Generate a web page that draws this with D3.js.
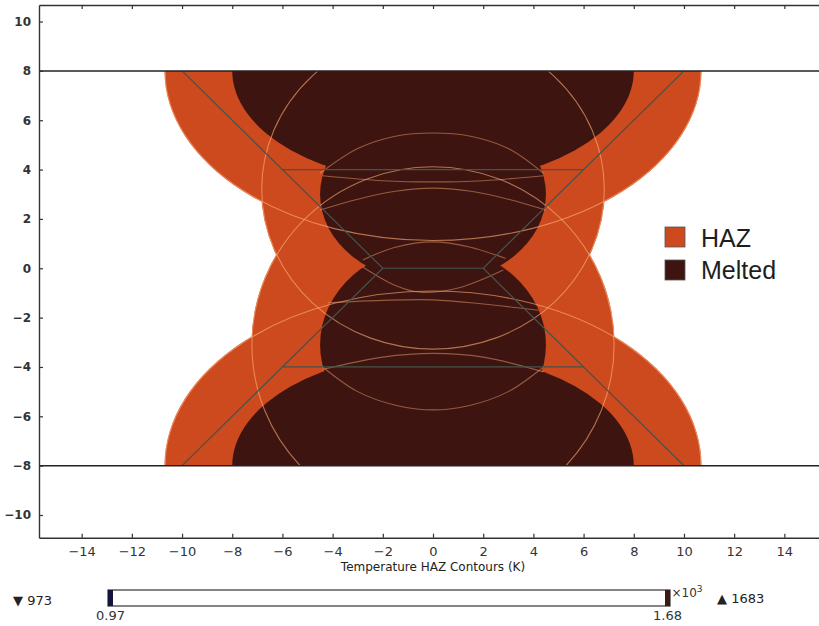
<!DOCTYPE html>
<html>
<head>
<meta charset="utf-8">
<script src="https://cdn.jsdelivr.net/npm/d3@7/dist/d3.min.js"></script>
<style>
  body { margin: 0; background: #fff; }
  svg { display: block; }
</style>
</head>
<body>
<div id="chart"></div>
<script>
// axis ticks
const xTicks = [-14, -12, -10, -8, -6, -4, -2, 0, 2, 4, 6, 8, 10, 12, 14];
const yTicks = [-10, -8, -6, -4, -2, 0, 2, 4, 6, 8, 10];

// plate surfaces (y) and groove outline
const plateY = [8, -8];
const grooveLines = [
    [[-10, 8], [-2, 0], [-10, -8]],
    [[10, 8], [2, 0], [10, -8]],
    [[-6, 4], [6, 4]],
    [[-2, 0], [2, 0]],
    [[-6, -4], [6, -4]]
];

// heat affected zones, [centre y, half width, half height]
const hazZones = [
    [8, 10.7, 6.9],
    [3.2, 6.85, 6.5],
    [-3.1, 7.24, 7.24],
    [-8, 10.7, 7.1]
];

// melted zones, [centre y, half width, half height]
const meltZones = [
    [8, 8.0, 4.55],
    [3.0, 4.5, 3.6],
    [-3.1, 4.5, 4.0],
    [-8, 8.0, 4.55]
];

// inner isotherm traces
const contourArcs = [
    [[-4.5, 3.85], [-3, 4.85], [-1.5, 5.35], [0, 5.48], [1.5, 5.35], [3, 4.85], [4.4, 3.85]],
    [[-4.4, 3.75], [-2, 3.55], [0, 3.5], [2, 3.55], [4.4, 3.75]],
    [[-4.5, 2.36], [-3, 2.8], [-1.5, 3.12], [0, 3.25], [1.5, 3.12], [3, 2.8], [4.5, 2.36]],
    [[-2.8, 0.34], [-1.5, 0.85], [0, 1.07], [1.5, 0.85], [2.9, 0.4]],
    [[-2.8, 0.05], [-1.5, -0.7], [-0.5, -0.97], [1, -0.8], [2.8, -0.07]],
    [[-4.2, -1.4], [-2, -1.3], [0, -1.28], [2, -1.45], [4.2, -1.7]],
    [[-4.4, -4.1], [-2, -3.6], [0, -3.45], [2, -3.6], [4.4, -4.2]],
    [[-4.4, -4.0], [-3, -5.0], [-1.5, -5.55], [0, -5.74], [1.5, -5.55], [3, -5.0], [4.4, -4.0]]
];

const legendNames = ["HAZ", "Melted"];
const legendColors = ["#cc4a1e", "#3e1410"];

// colour bar (x10^3 K)
const barRange = [0.97, 1.68];
const tempMin = 973;
const tempMax = 1683;

const width = 819;
const height = 626;
const hazColor = "#cc4a1e";
const meltColor = "#3e1410";

const svg = d3.select("#chart")
    .append("svg")
    .attr("width", width)
    .attr("height", height)
    .style("font-family", "DejaVu Sans, sans-serif");

const x = d3.scaleLinear().domain([-15.7, 15.5]).range([39, 822]);
const y = d3.scaleLinear().domain([-10.92, 10.67]).range([537.7, 5]);

const defs = svg.append("defs");

// plot area clip and plate clip
defs.append("clipPath").attr("id", "plotClip")
    .append("rect")
    .attr("x", x(-15.7)).attr("y", y(10.67))
    .attr("width", x(15.5) - x(-15.7)).attr("height", y(-10.92) - y(10.67));

defs.append("clipPath").attr("id", "plateClip")
    .append("rect")
    .attr("x", x(-15.7)).attr("y", y(plateY[0]))
    .attr("width", x(15.5) - x(-15.7)).attr("height", y(plateY[1]) - y(plateY[0]));

// union of HAZ ellipses, contours only show inside it
const hazClip = defs.append("clipPath").attr("id", "hazClip");
hazZones.forEach(function (d) {
    hazClip.append("ellipse")
        .attr("cx", x(0)).attr("cy", y(d[0]))
        .attr("rx", x(d[1]) - x(0)).attr("ry", y(0) - y(d[2]));
});

const plot = svg.append("g").attr("clip-path", "url(#plotClip)");
const plate = plot.append("g").attr("clip-path", "url(#plateClip)");

// HAZ fills
plate.selectAll(".haz")
    .data(hazZones)
    .enter()
    .append("ellipse")
    .attr("class", "haz")
    .attr("cx", x(0))
    .attr("cy", d => y(d[0]))
    .attr("rx", d => x(d[1]) - x(0))
    .attr("ry", d => y(0) - y(d[2]))
    .attr("fill", hazColor);

// melted fills
plate.selectAll(".melt")
    .data(meltZones)
    .enter()
    .append("ellipse")
    .attr("class", "melt")
    .attr("cx", x(0))
    .attr("cy", d => y(d[0]))
    .attr("rx", d => x(d[1]) - x(0))
    .attr("ry", d => y(0) - y(d[2]))
    .attr("fill", meltColor);

// contour lines
const contours = plate.append("g").attr("clip-path", "url(#hazClip)");
contours.selectAll(".hazline")
    .data(hazZones)
    .enter()
    .append("ellipse")
    .attr("class", "hazline")
    .attr("cx", x(0))
    .attr("cy", d => y(d[0]))
    .attr("rx", d => x(d[1]) - x(0) - 0.6)
    .attr("ry", d => y(0) - y(d[2]) - 0.6)
    .attr("fill", "none")
    .attr("stroke", "#ffb27a")
    .attr("stroke-opacity", 0.6)
    .attr("stroke-width", 1.1);

const arcLine = d3.line()
    .x(d => x(d[0]))
    .y(d => y(d[1]))
    .curve(d3.curveCatmullRom);

contours.selectAll(".arc")
    .data(contourArcs)
    .enter()
    .append("path")
    .attr("class", "arc")
    .attr("d", arcLine)
    .attr("fill", "none")
    .attr("stroke", "#ffb27a")
    .attr("stroke-opacity", 0.45)
    .attr("stroke-width", 1.1);

// groove
const grooveLine = d3.line().x(d => x(d[0])).y(d => y(d[1]));
plate.selectAll(".groove")
    .data(grooveLines)
    .enter()
    .append("path")
    .attr("class", "groove")
    .attr("d", grooveLine)
    .attr("fill", "none")
    .attr("stroke", "#45534c")
    .attr("stroke-width", 1.2);

// plate surfaces
plot.selectAll(".surface")
    .data(plateY)
    .enter()
    .append("line")
    .attr("class", "surface")
    .attr("x1", x(-15.7)).attr("x2", x(15.5))
    .attr("y1", d => y(d)).attr("y2", d => y(d))
    .attr("stroke", "#222")
    .attr("stroke-width", 1.5);

// axes
const axisColor = "#333";
const gLeft = svg.append("g")
    .attr("transform", `translate(${x(-15.7)},0)`)
    .call(d3.axisLeft(y).tickValues(yTicks).tickSize(-4).tickSizeOuter(0).tickPadding(8));
gLeft.selectAll("text").attr("font-size", "12px").attr("font-weight", "bold").attr("fill", axisColor)
    .style("font-family", "DejaVu Sans, sans-serif");

const gBottom = svg.append("g")
    .attr("transform", `translate(0,${y(-10.92)})`)
    .call(d3.axisBottom(x).tickValues(xTicks).tickSize(-4).tickSizeOuter(0).tickPadding(9));
gBottom.selectAll("text").attr("font-size", "13px").attr("fill", axisColor)
    .style("font-family", "DejaVu Sans, sans-serif");

const gTop = svg.append("g")
    .attr("transform", `translate(0,${y(10.67)})`)
    .call(d3.axisTop(x).tickValues(xTicks).tickSize(-4).tickSizeOuter(0).tickFormat(""));

[gLeft, gBottom, gTop].forEach(function (g) {
    g.select(".domain").attr("stroke", axisColor).attr("stroke-width", 1.4);
    g.selectAll(".tick line").attr("stroke", axisColor).attr("stroke-width", 1.2);
});

svg.append("text")
    .attr("x", x(0))
    .attr("y", 571)
    .attr("text-anchor", "middle")
    .attr("font-size", "12px")
    .attr("fill", "#222")
    .text("Temperature HAZ Contours (K)");

// legend
legendNames.forEach(function (name, i) {
    svg.append("rect")
        .attr("x", 665)
        .attr("y", 227 + i * 33)
        .attr("width", 20)
        .attr("height", 20)
        .attr("fill", legendColors[i])
        .attr("stroke", "#555")
        .attr("stroke-width", 0.8);
    svg.append("text")
        .attr("x", 701)
        .attr("y", 247 + i * 32)
        .attr("font-size", "25px")
        .attr("fill", "#1e1e1e")
        .style("font-family", "Liberation Sans, Arial, sans-serif")
        .text(name);
});

// colour bar
const cb = d3.scaleLinear().domain(barRange).range([110.5, 667.5]);
svg.append("rect")
    .attr("x", cb(barRange[0]) - 2.5)
    .attr("y", 590)
    .attr("width", cb(barRange[1]) - cb(barRange[0]) + 5)
    .attr("height", 16)
    .attr("fill", "#fff")
    .attr("stroke", "#333")
    .attr("stroke-width", 1.2);
svg.append("rect")
    .attr("x", cb(barRange[0]) - 2.5)
    .attr("y", 590)
    .attr("width", 5)
    .attr("height", 16)
    .attr("fill", "#14143c");
svg.append("rect")
    .attr("x", cb(barRange[1]) - 2.5)
    .attr("y", 590)
    .attr("width", 5)
    .attr("height", 16)
    .attr("fill", "#3a1a14");

svg.selectAll(".cblabel")
    .data(barRange)
    .enter()
    .append("text")
    .attr("class", "cblabel")
    .attr("x", d => cb(d))
    .attr("y", 620)
    .attr("text-anchor", "middle")
    .attr("font-size", "13px")
    .attr("fill", "#333")
    .text(d => d.toFixed(2));

svg.append("text")
    .attr("x", cb(barRange[1]) + 4)
    .attr("y", 597)
    .attr("font-size", "12px")
    .attr("fill", "#333")
    .html("×10<tspan dy='-5' font-size='9px'>3</tspan>");

svg.append("text")
    .attr("x", 13)
    .attr("y", 605)
    .attr("font-size", "13px")
    .attr("fill", "#222")
    .text("▼ " + tempMin);

svg.append("text")
    .attr("x", 717)
    .attr("y", 603)
    .attr("font-size", "13px")
    .attr("fill", "#222")
    .text("▲ " + tempMax);
</script>
</body>
</html>
